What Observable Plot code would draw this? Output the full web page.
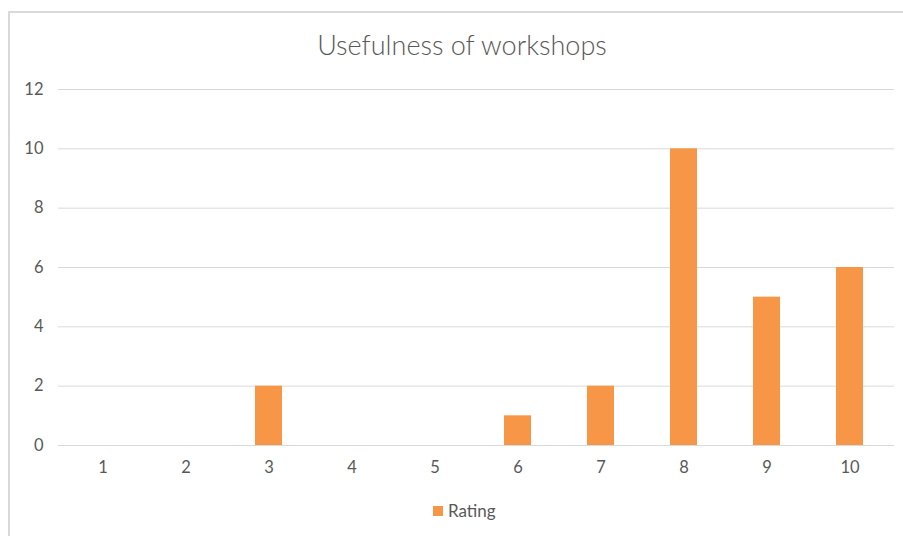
<!DOCTYPE html>
<html>
<head>
<meta charset="utf-8">
<script src="https://cdn.jsdelivr.net/npm/d3@7"></script>
<script src="https://cdn.jsdelivr.net/npm/@observablehq/plot@0.6"></script>
<style>
  html, body { margin: 0; padding: 0; background: #fff; }
  #wrap { position: relative; width: 903px; height: 536px; overflow: hidden; font-family: Lato, "Open Sans", sans-serif; }
  #frame { position: absolute; left: 8px; top: 11px; width: 920px; height: 560px; border: 2px solid #D9D9D9; box-sizing: border-box; }
  #title { position: absolute; top: 28px; left: 0; width: 924px; text-align: center; font-size: 27px; font-weight: 300; color: #595959; }
  #chart { position: absolute; left: 0; top: 60px; }
  #legend { position: absolute; top: 500px; left: 433px; font-size: 17px; color: #595959; display: flex; align-items: center; }
  #legend .sw { width: 10px; height: 10px; background: #F79646; margin-right: 5px; }
</style>
</head>
<body>
<div id="wrap">
  <div id="frame"></div>
  <div id="title">Usefulness of workshops</div>
  <div id="chart"></div>
  <div id="legend"><span class="sw"></span><span>Rating</span></div>
</div>
<script>
const categories = ["1", "2", "3", "4", "5", "6", "7", "8", "9", "10"];
const ratings = [0, 0, 2, 0, 0, 1, 2, 10, 5, 6];
const yTicks = [0, 2, 4, 6, 8, 10, 12];

const data = categories.map((c, i) => ({category: c, value: ratings[i]}));

const chart = Plot.plot({
  width: 903,
  height: 420,
  marginLeft: 58,
  marginRight: 9,
  marginTop: 29,
  marginBottom: 35,
  style: { fontFamily: "Lato, 'Open Sans', sans-serif", fontSize: "16.5px", color: "#595959", background: "transparent" },
  x: { domain: categories, paddingInner: 0.68, paddingOuter: 0.34, label: null, tickSize: 0, tickPadding: 16 },
  y: { domain: [0, 12], ticks: yTicks, label: null, tickSize: 0, tickPadding: 15 },
  marks: [
    Plot.ruleY(yTicks, { stroke: "#D9D9D9", strokeWidth: 1 }),
    Plot.barY(data, { x: "category", y: "value", fill: "#F79646" })
  ]
});
document.getElementById("chart").appendChild(chart);
</script>
</body>
</html>
